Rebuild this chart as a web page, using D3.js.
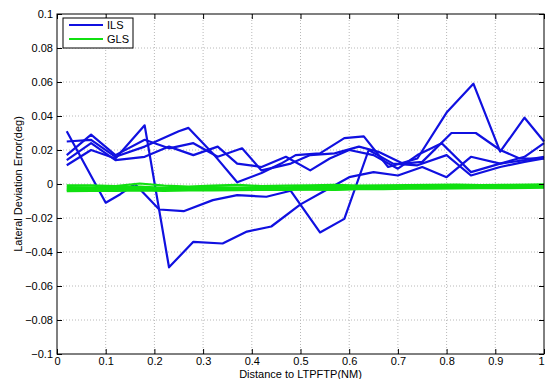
<!DOCTYPE html>
<html>
<head>
<meta charset="utf-8">
<script src="https://cdn.jsdelivr.net/npm/d3@7"></script>
<style>
  body { margin: 0; background: #fff; }
  svg text { font-family: "Liberation Sans", Arial, sans-serif; font-size: 11px; fill: #000; }
</style>
</head>
<body>
<div id="chart"></div>
<script>
// ILS runs (blue) - each run has its own sample positions
var ils1X = [0.02,0.10,0.13,0.16,0.21,0.26,0.32,0.37,0.43,0.48,0.54,0.59,0.64,0.69,0.74,0.80,0.85,0.91,0.96,1.0];
var ils1Y = [0.031,-0.011,-0.006,0.000,-0.015,-0.016,-0.0095,-0.0065,-0.0075,-0.004,-0.0285,-0.0205,0.020,0.012,0.011,0.017,0.005,0.010,0.013,0.015];
var ils2X = [0.02,0.07,0.12,0.18,0.23,0.28,0.34,0.39,0.44,0.50,0.55,0.60,0.65,0.70,0.75,0.80,0.85,0.91,0.96,1.0];
var ils2Y = [0.011,0.020,0.015,0.0345,-0.049,-0.034,-0.035,-0.028,-0.025,-0.012,-0.004,0.004,0.007,0.005,0.010,0.004,0.016,0.012,0.014,0.016];
var ils3X = [0.02,0.07,0.12,0.18,0.25,0.27,0.32,0.37,0.42,0.46,0.49,0.54,0.59,0.63,0.68,0.74,0.80,0.855,0.91,0.96,1.0];
var ils3Y = [0.025,0.026,0.016,0.022,0.031,0.033,0.018,0.001,0.0065,0.012,0.017,0.018,0.027,0.028,0.010,0.015,0.042,0.059,0.019,0.039,0.025];
var ils4X = [0.02,0.07,0.12,0.18,0.23,0.28,0.33,0.38,0.42,0.48,0.52,0.57,0.62,0.66,0.71,0.75,0.81,0.86,0.91,0.95,1.0];
var ils4Y = [0.017,0.029,0.017,0.026,0.021,0.024,0.016,0.021,0.008,0.012,0.017,0.018,0.022,0.019,0.012,0.013,0.030,0.030,0.020,0.015,0.015];
var ils5X = [0.02,0.07,0.12,0.18,0.23,0.28,0.33,0.37,0.42,0.47,0.52,0.56,0.60,0.65,0.70,0.74,0.79,0.85,0.91,0.96,1.0];
var ils5Y = [0.014,0.024,0.014,0.016,0.022,0.017,0.022,0.012,0.010,0.016,0.008,0.015,0.020,0.017,0.009,0.017,0.024,0.007,0.012,0.016,0.024];

// GLS runs (green) share one set of sample positions
var glsX  = [0.02,0.07,0.12,0.17,0.22,0.27,0.32,0.37,0.42,0.47,0.52,0.57,0.62,0.67,0.72,0.77,0.82,0.87,0.92,0.97,1.0];
var gls1Y = [-0.0008,-0.0008,-0.0012,0.0003,-0.0010,-0.0015,-0.0010,-0.0005,-0.0012,-0.0010,-0.0008,-0.0005,-0.0010,-0.0008,-0.0006,-0.0005,-0.0004,-0.0006,-0.0005,-0.0003,-0.0002];
var gls2Y = [-0.0018,-0.0020,-0.0017,-0.0015,-0.0022,-0.0020,-0.0018,-0.0021,-0.0017,-0.0019,-0.0016,-0.0018,-0.0015,-0.0014,-0.0016,-0.0013,-0.0012,-0.0013,-0.0011,-0.0010,-0.0010];
var gls3Y = [-0.0028,-0.0026,-0.0030,-0.0024,-0.0027,-0.0029,-0.0025,-0.0027,-0.0024,-0.0026,-0.0022,-0.0030,-0.0024,-0.0021,-0.0022,-0.0019,-0.0018,-0.0017,-0.0016,-0.0015,-0.0014];
var gls4Y = [-0.0035,-0.0033,-0.0036,-0.0032,-0.0034,-0.0031,-0.0033,-0.0030,-0.0031,-0.0029,-0.0030,-0.0032,-0.0027,-0.0026,-0.0025,-0.0023,-0.0022,-0.0021,-0.0020,-0.0019,-0.0018];
var gls5Y = [-0.0042,-0.0040,-0.0041,-0.0038,-0.0040,-0.0037,-0.0038,-0.0036,-0.0035,-0.0034,-0.0033,-0.0034,-0.0031,-0.0030,-0.0028,-0.0027,-0.0026,-0.0025,-0.0024,-0.0023,-0.0022];

var xTicks = [0,0.1,0.2,0.3,0.4,0.5,0.6,0.7,0.8,0.9,1];
var yTicks = [-0.1,-0.08,-0.06,-0.04,-0.02,0,0.02,0.04,0.06,0.08,0.1];
var legendNames = ["ILS", "GLS"];
var colors = { ILS: "#1010e0", GLS: "#10e010" };

var width = 545, height = 379;
var margin = { top: 14, right: 1, bottom: 25, left: 57 };
var iw = width - margin.left - margin.right,
    ih = height - margin.top - margin.bottom;

var svg = d3.select("#chart").append("svg").attr("width", width).attr("height", height);
var g = svg.append("g").attr("transform", "translate(" + margin.left + "," + margin.top + ")");

var x = d3.scaleLinear().domain([0, 1]).range([0, iw]);
var y = d3.scaleLinear().domain([-0.1, 0.1]).range([ih, 0]);

// dotted grid
g.append("g").selectAll("line").data(xTicks.slice(1, -1)).enter().append("line")
    .attr("x1", function(d) { return x(d); }).attr("x2", function(d) { return x(d); })
    .attr("y1", 0).attr("y2", ih)
    .attr("stroke", "#b8b8b8").attr("stroke-dasharray", "1,2");
g.append("g").selectAll("line").data(yTicks.slice(1, -1)).enter().append("line")
    .attr("y1", function(d) { return y(d); }).attr("y2", function(d) { return y(d); })
    .attr("x1", 0).attr("x2", iw)
    .attr("stroke", "#b8b8b8").attr("stroke-dasharray", "1,2");

var line = d3.line().x(function(d) { return x(d[0]); }).y(function(d) { return y(d[1]); });

var glsRuns = [gls1Y, gls2Y, gls3Y, gls4Y, gls5Y].map(function(ys) {
    return glsX.map(function(v, i) { return [v, ys[i]]; });
});
var ilsRuns = [[ils1X, ils1Y], [ils2X, ils2Y], [ils3X, ils3Y], [ils4X, ils4Y], [ils5X, ils5Y]].map(function(r) {
    return r[0].map(function(v, i) { return [v, r[1][i]]; });
});

g.append("g").selectAll("path").data(ilsRuns).enter().append("path")
    .attr("d", line).attr("fill", "none")
    .attr("stroke", colors.ILS).attr("stroke-width", 2.2).attr("stroke-linejoin", "round");

g.append("g").selectAll("path").data(glsRuns).enter().append("path")
    .attr("d", line).attr("fill", "none")
    .attr("stroke", colors.GLS).attr("stroke-width", 2.2).attr("stroke-linejoin", "round");

// axes, ticks pointing inward like matlab
var fmt = function(d) { return d3.format("")(+d.toFixed(2)); };
g.append("g").attr("transform", "translate(0," + ih + ")")
    .call(d3.axisBottom(x).tickValues(xTicks).tickSize(-5).tickPadding(3).tickFormat(fmt))
    .call(function(a) {
        a.select(".domain").remove();
        a.selectAll("text").attr("font-size", null).attr("font-family", null);
        // last label sits on the window edge, keep it inside
        a.selectAll("text").filter(function(d) { return d === 1; }).attr("text-anchor", "end");
    });
g.append("g")
    .call(d3.axisLeft(y).tickValues(yTicks).tickSize(-5).tickPadding(4).tickFormat(fmt))
    .call(function(a) { a.select(".domain").remove(); a.selectAll("text").attr("font-size", null).attr("font-family", null); });
g.append("g")
    .call(d3.axisTop(x).tickValues(xTicks).tickSize(-5).tickFormat(""))
    .call(function(a) { a.select(".domain").remove(); });
g.append("g").attr("transform", "translate(" + iw + ",0)")
    .call(d3.axisRight(y).tickValues(yTicks).tickSize(-5).tickFormat(""))
    .call(function(a) { a.select(".domain").remove(); });

g.append("rect").attr("width", iw).attr("height", ih)
    .attr("fill", "none").attr("stroke", "#000").attr("stroke-width", 1);

// axis titles
svg.append("text").attr("x", margin.left + iw / 2).attr("y", 378)
    .attr("text-anchor", "middle").text("Distance to LTPFTP(NM)");
svg.append("text").attr("transform", "translate(22," + (margin.top + ih / 2) + ") rotate(-90)")
    .attr("text-anchor", "middle").text("Lateral Deviation Error(deg)");

// legend
var lg = svg.append("g").attr("transform", "translate(63,18)");
lg.append("rect").attr("width", 70).attr("height", 30).attr("fill", "#fff").attr("stroke", "#000");
var items = lg.selectAll("g").data(legendNames).enter().append("g")
    .attr("transform", function(d, i) { return "translate(0," + (7 + i * 14) + ")"; });
items.append("line").attr("x1", 6).attr("x2", 40)
    .attr("stroke", function(d) { return colors[d]; }).attr("stroke-width", 2);
items.append("text").attr("x", 44).attr("y", 4).text(function(d) { return d; });
</script>
</body>
</html>
